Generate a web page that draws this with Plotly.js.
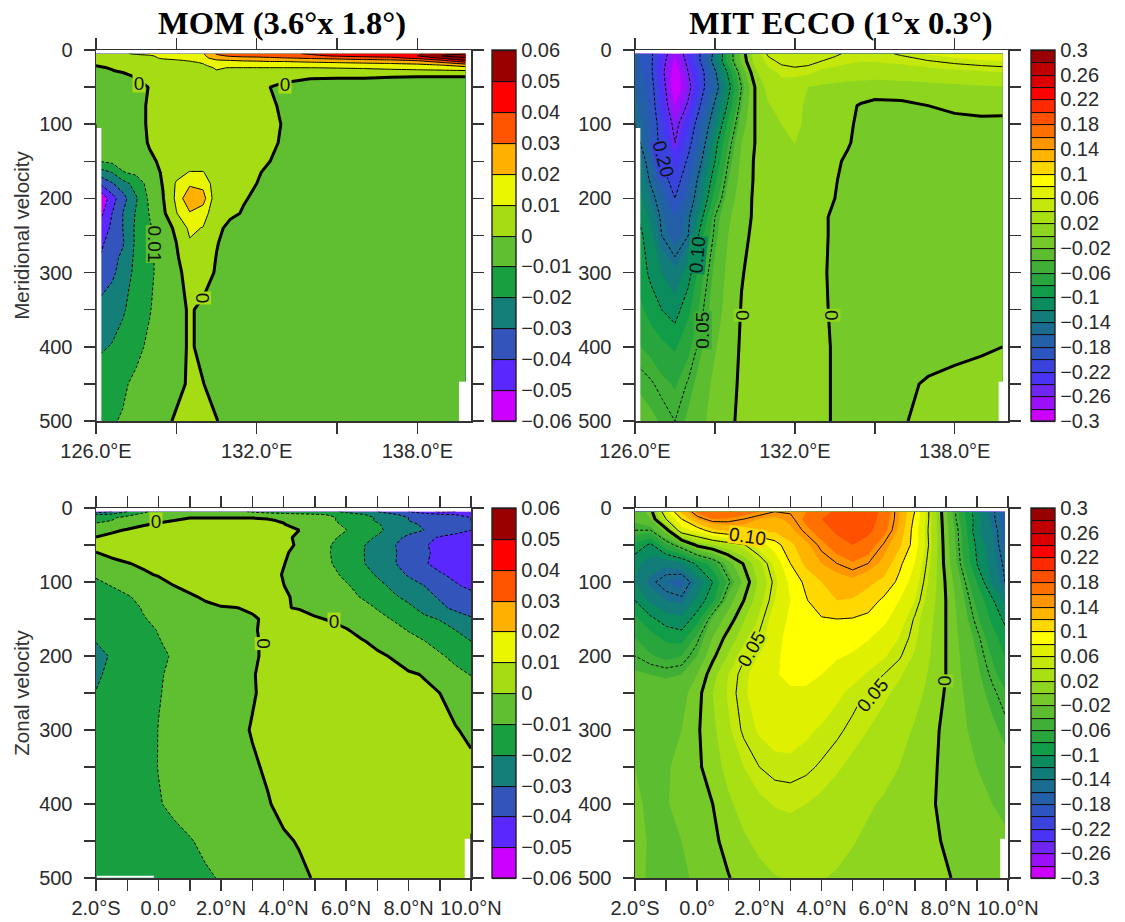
<!DOCTYPE html>
<html><head><meta charset="utf-8">
<script src="https://cdn.plot.ly/plotly-3.0.1.min.js"></script>
<style>html,body{margin:0;padding:0;background:#fff}#chart{width:1125px;height:922px}</style>
</head><body><div id="chart"></div>
<script>
const lonMom=[126,126.2,126.6,127,127.5,128,128.5,129,129.5,130,130.5,131,131.5,132,132.5,133,134,135,136,137,138,139,139.8];
const depthMom=[5,8,11,14,17,20,24,28,35,50,75,100,125,150,165,180,200,220,240,260,280,300,350,400,450,500];
const momMeridional=[
[.006,.007,.008,.0095,.0105,.011,.012,.013,.015,.019,.031,.033,.034,.035,.036,.038,.041,.045,.045,.043,.048,.058,.06],
[.006,.006,.007,.008,.009,.0095,.011,.012,.014,.018,.028,.031,.032,.033,.034,.036,.038,.041,.043,.044,.05,.061,.065],
[.005,.005,.006,.007,.008,.009,.0105,.0115,.013,.017,.024,.026,.027,.027,.028,.029,.031,.033,.035,.037,.042,.052,.058],
[.004,.004,.005,.006,.007,.008,.009,.0095,.0105,.0135,.019,.02,.021,.021,.022,.022,.024,.025,.027,.028,.031,.04,.05],
[.002,.002,.004,.005,.006,.007,.008,.0085,.009,.0105,.016,.017,.017,.018,.018,.018,.019,.02,.021,.022,.024,.03,.038],
[.0005,.001,.002,.004,.005,.006,.007,.0075,.008,.0095,.013,.0135,.014,.014,.0145,.015,.015,.016,.0165,.017,.018,.021,.026],
[-.001,-.0005,.0005,.002,.004,.005,.006,.0065,.007,.0085,.0105,.0098,.0098,.0098,.0098,.0098,.0099,.0102,.0105,.011,.012,.014,.016],
[-.003,-.003,-.0003,.001,.003,.004,.005,.0055,.006,.0075,.0098,.009,.0085,.0085,.0085,.008,.008,.008,.0085,.009,.009,.009,.0095],
[-.005,-.005,-.004,-.002,.001,.003,.004,.0045,.005,.006,.0065,.006,.005,.005,.004,.003,.001,.001,.001,.0005,.0003,.0003,.0003],
[-.006,-.006,-.006,-.005,-.004,.0005,.003,.004,.0045,.005,.0055,.005,.004,.0025,0,-.002,-.003,-.004,-.004,-.004,-.004,-.004,-.004],
[-.006,-.006,-.006,-.006,-.005,.002,.003,.004,.005,.005,.005,.005,.004,.003,.001,-.001,-.005,-.005,-.005,-.005,-.005,-.005,-.005],
[-.006,-.006,-.006,-.006,-.005,.002,.003,.004,.005,.0055,.005,.005,.004,.003,.002,-.0005,-.005,-.005,-.005,-.005,-.005,-.005,-.005],
[-.006,-.006,-.006,-.006,-.005,.001,.003,.004,.005,.005,.005,.005,.004,.003,.0015,-.001,-.005,-.005,-.005,-.005,-.005,-.005,-.005],
[-.0095,-.0095,-.008,-.007,-.006,-.002,.002,.004,.005,.005,.004,.004,.003,.002,0,-.002,-.005,-.005,-.005,-.005,-.005,-.005,-.005],
[-.025,-.024,-.02,-.0105,-.008,-.004,.001,.007,.0105,.0105,.004,.003,.002,.0005,-.001,-.003,-.005,-.005,-.005,-.005,-.005,-.005,-.005],
[-.037,-.038,-.031,-.024,-.016,-.006,.0005,.011,.018,.017,.004,.003,.001,0,-.002,-.004,-.005,-.005,-.005,-.005,-.005,-.005,-.005],
[-.055,-.058,-.044,-.034,-.021,-.008,-.0005,.012,.029,.024,.003,.002,.0005,-.001,-.003,-.004,-.005,-.005,-.005,-.005,-.005,-.005,-.005],
[-.05,-.052,-.04,-.03,-.019,-.0095,-.002,.0095,.019,.015,.002,.0015,-.0005,-.002,-.004,-.005,-.005,-.005,-.005,-.005,-.005,-.005,-.005],
[-.045,-.046,-.038,-.03,-.018,-.011,-.005,.002,.012,.0095,.002,-.002,-.004,-.005,-.005,-.005,-.005,-.005,-.005,-.005,-.005,-.005,-.005],
[-.042,-.042,-.034,-.031,-.018,-.012,-.006,0,.009,.006,.0005,-.003,-.005,-.005,-.005,-.005,-.005,-.005,-.005,-.005,-.005,-.005,-.005],
[-.037,-.039,-.033,-.028,-.0175,-.012,-.006,-.001,.005,.005,-.0003,-.0035,-.005,-.005,-.005,-.005,-.005,-.005,-.005,-.005,-.005,-.005,-.005],
[-.033,-.035,-.032,-.026,-.017,-.012,-.006,-.002,.003,.004,-.001,-.004,-.005,-.005,-.005,-.005,-.005,-.005,-.005,-.005,-.005,-.005,-.005],
[-.027,-.027,-.024,-.021,-.016,-.0105,-.006,-.003,.001,-.002,-.004,-.005,-.005,-.005,-.005,-.005,-.005,-.005,-.005,-.005,-.005,-.005,-.005],
[-.022,-.021,-.0195,-.017,-.012,-.0085,-.006,-.003,.001,-.002,-.004,-.005,-.005,-.005,-.005,-.005,-.005,-.005,-.005,-.005,-.005,-.005,-.005],
[-.015,-.015,-.013,-.011,-.0085,-.007,-.005,-.002,.001,.0002,-.003,-.005,-.005,-.005,-.005,-.005,-.005,-.005,-.005,-.005,-.005,-.005,-.005],
[-.012,-.012,-.0105,-.0095,-.008,-.006,-.002,.001,.002,.002,.0003,-.003,-.005,-.005,-.005,-.005,-.005,-.005,-.005,-.005,-.005,-.005,-.005]
];

const lonEcco=[126,126.2,126.6,127,127.5,128,128.5,129,129.5,130,130.5,131,131.5,132,132.5,133,133.5,134,134.5,135,136,137,138,139,139.8];
const depthEcco=[5,15,30,50,75,100,125,150,175,200,225,250,300,350,400,450,500];
const eccoMeridional=[
[-.17,-.18,-.195,-.23,-.275,-.235,-.195,-.14,-.07,-.012,.03,.053,.06,.058,.056,.054,.052,.048,.045,.045,.052,.062,.068,.072,.074],
[-.17,-.18,-.195,-.235,-.285,-.24,-.195,-.135,-.07,-.015,.026,.045,.054,.056,.054,.05,.047,.043,.041,.041,.044,.049,.054,.058,.06],
[-.165,-.175,-.195,-.24,-.295,-.25,-.21,-.155,-.095,-.035,.015,.036,.042,.045,.044,.036,.033,.03,.029,.028,.03,.033,.036,.038,.04],
[-.16,-.17,-.19,-.23,-.30,-.26,-.21,-.165,-.11,-.05,0,.028,.036,.03,.02,.017,.015,.014,.013,.012,.013,.014,.016,.018,.019],
[-.155,-.165,-.185,-.225,-.28,-.245,-.195,-.145,-.095,-.04,0,.018,.028,.032,.012,.009,.007,.004,-.002,-.006,-.005,0,.005,.008,.007],
[-.15,-.155,-.18,-.215,-.26,-.225,-.175,-.13,-.075,-.03,0,.013,.02,.026,.014,.01,.006,.002,-.003,-.006,-.008,-.008,-.007,-.006,-.006],
[-.14,-.15,-.18,-.21,-.25,-.21,-.165,-.11,-.06,-.02,0,.01,.013,.0205,.01,.007,.004,.001,-.004,-.008,-.009,-.01,-.01,-.01,-.01],
[-.125,-.135,-.165,-.20,-.23,-.195,-.15,-.10,-.05,-.015,.002,.008,.012,.01,.007,.005,.002,-.002,-.006,-.008,-.01,-.01,-.01,-.01,-.01],
[-.115,-.125,-.155,-.185,-.215,-.18,-.135,-.085,-.04,-.012,.002,.007,.009,.009,.006,.004,.001,-.004,-.008,-.009,-.01,-.01,-.01,-.01,-.01],
[-.105,-.115,-.14,-.165,-.20,-.17,-.125,-.07,-.03,-.01,.003,.006,.008,.008,.006,.003,0,-.005,-.008,-.01,-.01,-.01,-.01,-.01,-.01],
[-.095,-.105,-.125,-.155,-.18,-.155,-.105,-.05,-.023,-.008,.003,.006,.007,.007,.005,.002,-.002,-.006,-.008,-.01,-.01,-.01,-.01,-.01,-.01],
[-.09,-.095,-.115,-.15,-.17,-.15,-.085,-.045,-.02,-.005,.004,.006,.007,.007,.005,.002,-.002,-.006,-.008,-.01,-.01,-.01,-.01,-.01,-.01],
[-.08,-.09,-.105,-.12,-.135,-.11,-.065,-.035,-.015,-.001,.005,.006,.007,.007,.005,.002,-.003,-.006,-.008,-.009,-.009,-.009,-.008,-.007,-.006],
[-.07,-.075,-.09,-.10,-.11,-.085,-.053,-.03,-.012,.001,.005,.006,.007,.007,.005,.002,-.002,-.005,-.007,-.008,-.008,-.007,-.005,-.004,-.003],
[-.055,-.06,-.065,-.075,-.083,-.065,-.042,-.022,-.008,.002,.005,.006,.007,.007,.005,.002,-.001,-.005,-.006,-.006,-.005,-.004,-.002,-.001,0],
[-.04,-.043,-.048,-.055,-.062,-.048,-.03,-.015,-.004,.002,.005,.006,.007,.007,.005,.002,-.001,-.004,-.005,-.005,-.002,.001,.002,.003,.003],
[-.03,-.032,-.036,-.042,-.05,-.036,-.024,-.012,-.002,.002,.005,.006,.007,.007,.005,.002,-.001,-.004,-.004,-.003,-.001,.003,.004,.004,.004]
];

const latMom=[-2,-1.5,-1,-.5,0,.5,1,1.5,2,2.5,3,3.5,4,4.5,5,5.5,6,6.5,7,7.5,8,8.5,9,9.5,10];
const depthMomZonal=[5,9,13,17,22,30,40,50,60,75,90,105,120,135,150,165,180,200,225,250,300,350,400,450,500];
const momZonal=[
[-.035,-.03,-.02,-.012,-.006,-.004,-.003,-.003,-.005,-.008,-.011,-.013,-.014,-.015,-.016,-.018,-.022,-.026,-.03,-.035,-.04,-.045,-.052,-.05,-.045],
[-.02,-.018,-.012,-.008,-.004,-.002,-.001,-.001,-.002,-.003,-.005,-.006,-.007,-.008,-.009,-.0105,-.015,-.019,-.023,-.028,-.034,-.036,-.038,-.04,-.042],
[-.012,-.011,-.008,-.005,-.003,-.001,-.0005,-.0005,-.0005,-.0005,-.0005,-.001,-.002,-.004,-.006,-.009,-.012,-.016,-.021,-.026,-.03,-.033,-.036,-.038,-.04],
[-.012,-.01,-.008,-.004,-.002,0,.003,.004,.004,.004,.003,.001,-.001,-.004,-.006,-.009,-.012,-.017,-.021,-.026,-.03,-.034,-.036,-.038,-.04],
[-.009,-.007,-.005,-.001,.001,.003,.004,.005,.005,.005,.004,.003,.0005,-.004,-.006,-.0085,-.011,-.016,-.019,-.024,-.027,-.032,-.035,-.037,-.039],
[-.004,-.002,.001,.003,.004,.005,.006,.006,.006,.006,.005,.004,.002,0,-.005,-.0075,-.0098,-.014,-.018,-.023,-.027,-.03,-.034,-.037,-.04],
[.0003,.003,.004,.005,.005,.006,.006,.006,.006,.006,.005,.004,.0025,-.002,-.005,-.0085,-.012,-.017,-.021,-.027,-.032,-.037,-.041,-.043,-.044],
[.002,.003,.004,.005,.005,.005,.006,.006,.006,.006,.005,.004,.002,-.001,-.005,-.0098,-.014,-.019,-.024,-.029,-.035,-.039,-.043,-.045,-.046],
[-.0001,.002,.003,.004,.005,.005,.006,.006,.006,.006,.005,.003,.001,-.002,-.005,-.01,-.014,-.019,-.025,-.028,-.036,-.038,-.043,-.046,-.047],
[-.003,-.002,-.0003,.001,.002,.004,.005,.005,.005,.005,.004,.002,.0002,-.002,-.005,-.0095,-.014,-.019,-.024,-.029,-.034,-.039,-.043,-.046,-.047],
[-.009,-.006,-.004,-.001,.0005,.002,.003,.004,.005,.005,.004,.002,-.0003,-.002,-.004,-.0075,-.012,-.016,-.021,-.026,-.031,-.036,-.039,-.042,-.043],
[-.012,-.0098,-.008,-.005,-.0025,0,.002,.003,.004,.004,.004,.002,.0001,-.002,-.004,-.006,-.009,-.013,-.017,-.022,-.026,-.03,-.035,-.039,-.042],
[-.014,-.013,-.0105,-.0085,-.005,-.003,-.001,.001,.003,.0035,.0035,.0025,.0007,-.001,-.003,-.005,-.0075,-.0105,-.013,-.0185,-.0225,-.027,-.031,-.034,-.037],
[-.015,-.014,-.013,-.0095,-.0075,-.005,-.003,-.0015,-.0005,-.0001,.0008,.001,.0003,-.0003,-.002,-.003,-.005,-.007,-.0105,-.014,-.018,-.023,-.028,-.032,-.034],
[-.0145,-.015,-.014,-.0105,-.0085,-.006,-.004,-.0025,-.002,-.0015,-.0007,.001,.002,.002,.0007,-.0005,-.0025,-.005,-.0075,-.0105,-.015,-.018,-.0205,-.025,-.029],
[-.017,-.017,-.015,-.013,-.0095,-.007,-.005,-.003,-.0025,-.002,-.001,.002,.003,.004,.003,.002,.0005,-.002,-.004,-.007,-.0105,-.013,-.016,-.02,-.023],
[-.0195,-.0175,-.016,-.014,-.0105,-.0075,-.0055,-.0035,-.003,-.0025,-.0015,.002,.0035,.005,.005,.004,.002,.0005,-.0015,-.004,-.007,-.0098,-.013,-.016,-.02],
[-.025,-.0185,-.016,-.014,-.012,-.009,-.006,-.004,-.0035,-.003,-.0015,.002,.004,.005,.006,.0055,.004,.003,.001,-.0005,-.003,-.006,-.009,-.012,-.016],
[-.021,-.0185,-.017,-.015,-.011,-.008,-.006,-.0045,-.0035,-.0025,-.0005,.002,.004,.005,.006,.006,.005,.004,.003,.002,.0007,-.0003,-.004,-.008,-.0103],
[-.0198,-.018,-.016,-.014,-.0105,-.008,-.006,-.0045,-.0035,-.0025,-.0007,.002,.004,.005,.006,.006,.006,.005,.004,.003,.002,.001,0,-.002,-.004],
[-.017,-.017,-.016,-.014,-.0098,-.008,-.006,-.0045,-.0035,-.002,.0005,.002,.004,.005,.006,.006,.006,.005,.004,.003,.003,.002,.001,.0003,-.001],
[-.016,-.016,-.015,-.013,-.0098,-.008,-.006,-.0045,-.0035,-.0025,-.001,.001,.003,.005,.006,.006,.006,.005,.004,.004,.003,.003,.002,.002,.001],
[-.016,-.016,-.015,-.014,-.0105,-.0085,-.0065,-.005,-.004,-.003,-.002,-.0005,.002,.004,.005,.005,.005,.005,.004,.004,.003,.003,.002,.002,.002],
[-.016,-.016,-.015,-.014,-.013,-.012,-.0105,-.0085,-.0065,-.005,-.0035,-.0025,-.001,.0005,.002,.004,.005,.004,.004,.004,.003,.003,.002,.002,.002],
[-.016,-.016,-.015,-.015,-.014,-.013,-.012,-.011,-.0095,-.008,-.006,-.0045,-.003,-.0015,.0005,.002,.004,.004,.004,.004,.003,.003,.002,.002,.002]
];

const latEcco=[-2,-1.5,-1,-.5,0,.5,1,1.5,2,2.5,3,3.5,4,4.5,5,5.5,6,6.5,7,7.5,8,8.5,9,9.5,9.9];
const eccoZonal=[
[-.04,-.01,.073,.125,.165,.18,.175,.17,.16,.15,.152,.16,.17,.185,.195,.19,.175,.14,.10,.045,-.017,-.07,-.115,-.145,-.175],
[-.035,-.02,.05,.10,.14,.16,.158,.15,.14,.135,.145,.165,.18,.19,.198,.19,.172,.14,.095,.045,-.015,-.068,-.11,-.145,-.17],
[-.05,-.05,-.01,.07,.085,.115,.125,.13,.125,.125,.135,.155,.17,.185,.192,.185,.168,.135,.09,.043,-.012,-.06,-.115,-.14,-.165],
[-.085,-.105,-.065,-.035,.005,.02,.035,.048,.07,.09,.115,.135,.155,.17,.18,.172,.148,.125,.09,.045,-.01,-.058,-.105,-.135,-.165],
[-.115,-.13,-.135,-.125,-.095,-.07,-.03,.002,.035,.065,.10,.125,.14,.15,.158,.15,.135,.105,.08,.04,-.007,-.053,-.10,-.13,-.155],
[-.12,-.145,-.16,-.168,-.135,-.10,-.055,-.015,.025,.055,.085,.105,.12,.13,.135,.125,.115,.095,.07,.035,-.002,-.04,-.08,-.125,-.15],
[-.10,-.125,-.14,-.145,-.115,-.085,-.03,0,.033,.06,.08,.098,.115,.12,.118,.11,.096,.08,.06,.03,0,-.033,-.065,-.097,-.125],
[-.075,-.095,-.11,-.115,-.09,-.035,-.012,.018,.043,.07,.083,.09,.098,.10,.099,.095,.085,.07,.048,.025,0,-.028,-.056,-.085,-.105],
[-.06,-.072,-.085,-.09,-.055,-.02,.008,.03,.053,.072,.088,.093,.095,.092,.088,.082,.072,.06,.044,.022,0,-.025,-.045,-.072,-.09],
[-.05,-.058,-.065,-.06,-.04,-.005,.022,.048,.062,.076,.087,.09,.088,.082,.078,.07,.062,.052,.038,.02,0,-.022,-.04,-.062,-.08],
[-.037,-.04,-.042,-.04,-.02,.012,.04,.056,.068,.078,.085,.085,.08,.072,.066,.058,.05,.042,.032,.017,0,-.02,-.036,-.054,-.07],
[-.03,-.032,-.033,-.028,-.008,.02,.042,.058,.067,.073,.077,.077,.072,.063,.056,.048,.043,.036,.027,.014,-.002,-.018,-.033,-.046,-.058],
[-.024,-.026,-.027,-.02,-.003,.015,.037,.053,.062,.067,.067,.063,.058,.053,.046,.04,.034,.027,.018,.008,-.006,-.016,-.026,-.036,-.044],
[-.02,-.022,-.022,-.015,-.004,.01,.027,.04,.05,.055,.056,.053,.048,.042,.036,.031,.026,.02,.012,.004,-.005,-.012,-.02,-.027,-.034],
[-.019,-.021,-.021,-.016,-.008,0,.016,.028,.036,.041,.042,.04,.036,.031,.026,.022,.018,.013,.008,.002,-.004,-.01,-.015,-.02,-.025],
[-.017,-.021,-.022,-.02,-.012,-.004,.006,.017,.025,.031,.034,.033,.03,.026,.021,.017,.013,.009,.005,.002,-.001,-.006,-.01,-.013,-.016],
[-.016,-.022,-.023,-.022,-.018,-.008,-.001,.007,.014,.019,.021,.022,.021,.018,.015,.012,.009,.006,.004,.002,.001,-.002,-.005,-.008,-.01]
];

const coarseBands=['#cc00ff','#5a28ff','#3355bb','#147f78','#18a040','#60bf30','#a5dc14','#eaf500','#ffb000','#ff5500','#ff0000','#990000'];
const fineBands=['#cc00ff','#9a10f8','#7025f0','#4a33f5','#3a44dd','#2c55c0','#2460a8','#1a6d90','#127c78','#0a8c5e','#109c48','#28a53c','#3fb035','#5cbd30','#75c928','#8ed520','#a8e014','#c4e80c','#dff000','#ffff00','#ffd800','#ffb400','#ff9500','#ff7000','#ff5000','#ff2a00','#ff0000','#dd0000','#c00000','#990000'];
const coarseTicks=[.06,.05,.04,.03,.02,.01,0,-.01,-.02,-.03,-.04,-.05,-.06];
const coarseLabels=['0.06','0.05','0.04','0.03','0.02','0.01','0','−0.01','−0.02','−0.03','−0.04','−0.05','−0.06'];
const fineTicks=[.3,.26,.22,.18,.14,.1,.06,.02,-.02,-.06,-.1,-.14,-.18,-.22,-.26,-.3];
const fineLabels=['0.3','0.26','0.22','0.18','0.14','0.1','0.06','0.02','−0.02','−0.06','−0.1','−0.14','−0.18','−0.22','−0.26','−0.3'];
const depthTicks=[0,50,100,150,200,250,300,350,400,450,500];
const depthLabels=['0','','100','','200','','300','','400','','500'];
const lonTicks=[126,129,132,135,138];
const lonLabels=['126.0°E','','132.0°E','','138.0°E'];
const latTicks=[-2,-1,0,1,2,3,4,5,6,7,8,9,10];
const latLabels=['2.0°S','','0.0°','','2.0°N','','4.0°N','','6.0°N','','8.0°N','','10.0°N'];

const W=1125,H=922,FONT='"Liberation Sans", Arial, sans-serif',INK='#2a2a2a';
const traces=[],annotations=[],shapes=[];
function scaleFrom(bands){
  const n=bands.length, out=[[0,bands[0]]];
  bands.forEach((c,k)=>out.push([(k+.5)/n,c]));
  out.push([1,bands[n-1]]);
  return out;
}
function panel(o){
  const ax=o.n===1?'':o.n, xa='x'+ax, ya='y'+ax;
  const start=o.limit*-1, end=o.limit;
  const common={x:o.x,y:o.y,z:o.z,xaxis:xa,yaxis:ya,hoverinfo:'skip'};
  const scale=scaleFrom(o.bands);
  traces.push(Object.assign({},common,{type:'contour',colorscale:scale,zmin:start,zmax:end,autocontour:false,
    contours:{start:start,end:end,size:o.bandSize,coloring:'fill',showlines:true},
    line:{color:'#111',width:1.1,smoothing:0},
    colorbar:{x:o.cbX/W,xanchor:'left',xpad:0,y:1-o.bottom/H,yanchor:'bottom',ypad:0,len:(o.bottom-o.top)/H,thickness:24,
      outlinewidth:1.4,outlinecolor:'#222',tickmode:'array',tickvals:o.cbTicks,ticktext:o.cbLabels,ticks:'',
      tickfont:{family:FONT,size:20,color:INK}}}));
  traces.push(Object.assign({},common,{type:'contour',colorscale:scale,zmin:start,zmax:end,autocontour:false,showscale:false,
    contours:{start:start,end:end,size:o.bandSize,coloring:'fill',showlines:false},line:{width:0,smoothing:0}}));
  const lineTrace=(a,b,s,width,dash)=>Object.assign({},common,{type:'contour',showscale:false,autocontour:false,
    contours:{start:a,end:b,size:s,coloring:'none',showlines:true},line:{color:'#000',width:width,dash:dash,smoothing:0}});
  traces.push(lineTrace(start,-o.lineSize,o.lineSize,1,'3px,2px'));
  traces.push(lineTrace(o.lineSize,end,o.lineSize,1,'solid'));
  traces.push(lineTrace(0,0,1,3,'solid'));
  o.masks.forEach(m=>shapes.push({type:'rect',xref:xa,yref:ya,x0:m[0],x1:m[1],y0:m[2],y1:m[3],fillcolor:'#fff',line:{width:0},layer:'above'}));
  o.edges.forEach(e=>shapes.push({type:'line',xref:xa,yref:ya,x0:e[0],x1:e[0],y0:e[1],y1:e[2],line:{color:'#333',width:1.5},layer:'above'}));
  o.labels.forEach(l=>annotations.push({xref:xa,yref:ya,x:l[0],y:l[1],text:l[2],textangle:l[3],showarrow:false,bgcolor:l[4],borderpad:0,
    width:l[2].length===1?12:undefined,height:17,font:{family:FONT,size:19,color:'#111'}}));
  if(o.title) annotations.push({xref:'paper',yref:'paper',x:o.titleX/W,xanchor:'center',y:1-23/H,text:o.title,showarrow:false,yanchor:'middle',
    font:{family:'"Liberation Serif", serif',size:32.5,color:'#000',weight:700}});
}
const axisBase={showgrid:false,zeroline:false,showline:true,linecolor:'#333',linewidth:1.5,ticks:'outside',ticklen:11,tickwidth:1.5,tickcolor:'#333',
  mirror:'allticks',tickmode:'array',tickfont:{family:FONT,size:20,color:INK}};
const layout={width:W,height:H,paper_bgcolor:'#fff',plot_bgcolor:'#fff',showlegend:false,margin:{l:0,r:0,t:0,b:0,autoexpand:false},annotations:annotations,shapes:shapes};
function axes(n,box,xt,xl,xr,yTitle){
  const s=n===1?'':n;
  layout['xaxis'+s]=Object.assign({},axisBase,{anchor:'y'+s,domain:[box[0]/W,box[1]/W],range:xr,tickvals:xt,ticktext:xl,ticklabelstandoff:0});
  layout['yaxis'+s]=Object.assign({},axisBase,{anchor:'x'+s,domain:[1-box[3]/H,1-box[2]/H],range:[500,0],tickvals:depthTicks,ticktext:depthLabels,ticklabelstandoff:7,
    title:yTitle?{text:yTitle,font:{family:FONT,size:20.5,color:'#333'},standoff:4}:undefined});
}
axes(1,[96,471,50,421],lonTicks,lonLabels,[126,140],'Meridional velocity');
axes(2,[635,1008,50,421],lonTicks,lonLabels,[126,140],'');
axes(3,[96,471,508,878],latTicks,latLabels,[-2,10],'Zonal velocity');
axes(4,[635,1008,508,878],latTicks,latLabels,[-2,10],'');

panel({n:1,x:lonMom,y:depthMom,z:momMeridional,bands:coarseBands,limit:.06,bandSize:.01,lineSize:.01,cbX:492,top:50,bottom:421,cbTicks:coarseTicks,cbLabels:coarseLabels,
  title:'MOM (3.6°x 1.8°)',titleX:282,
  masks:[[126,126.2,105,500],[139.55,139.85,447,500]],edges:[[126,100,500]],
  labels:[[127.6,45,'0',0,'#a5dc14'],[133.05,46,'0',0,'#a5dc14'],[129.95,334,'0',90,'#a5dc14'],[128.2,262,'0.01',90,'#60bf30']]});
panel({n:2,x:lonEcco,y:depthEcco,z:eccoMeridional,bands:fineBands,limit:.3,bandSize:.02,lineSize:.05,cbX:1031,top:50,bottom:421,cbTicks:fineTicks,cbLabels:fineLabels,
  title:'MIT ECCO (1°x 0.3°)',titleX:840,
  masks:[[126,126.2,105,500],[139.65,139.85,447,500]],edges:[[126,100,500]],
  labels:[[127.08,147,'0.20',75,'#3a44dd'],[128.35,276,'0.10',-85,'#0a8c5e'],[128.55,377,'0.05',-90,'#3fb035'],[130.03,358,'0',90,'#8ed520'],[133.37,358,'0',90,'#8ed520']]});
panel({n:3,x:latMom,y:depthMomZonal,z:momZonal,bands:coarseBands,limit:.06,bandSize:.01,lineSize:.01,cbX:492,top:508,bottom:878,cbTicks:coarseTicks,cbLabels:coarseLabels,
  masks:[[-1.97,-.15,497,499.5],[9.8,10,447,500]],edges:[[10,440,500]],
  labels:[[-.07,18,'0',0,'#a5dc14'],[5.62,153,'0',0,'#a5dc14'],[3.37,183,'0',90,'#a5dc14']]});
panel({n:4,x:latEcco,y:depthEcco,z:eccoZonal,bands:fineBands,limit:.3,bandSize:.02,lineSize:.05,cbX:1031,top:508,bottom:878,cbTicks:fineTicks,cbLabels:fineLabels,
  masks:[[9.75,9.95,447,500]],edges:[],
  labels:[[1.63,38,'0.10',8,'#ffd800'],[1.74,191,'0.05',-60,'#c4e80c'],[5.63,253,'0.05',-50,'#c4e80c'],[7.96,233,'0',90,'#8ed520']]});

Plotly.newPlot('chart',traces,layout,{displayModeBar:false,staticPlot:true});
</script></body></html>
